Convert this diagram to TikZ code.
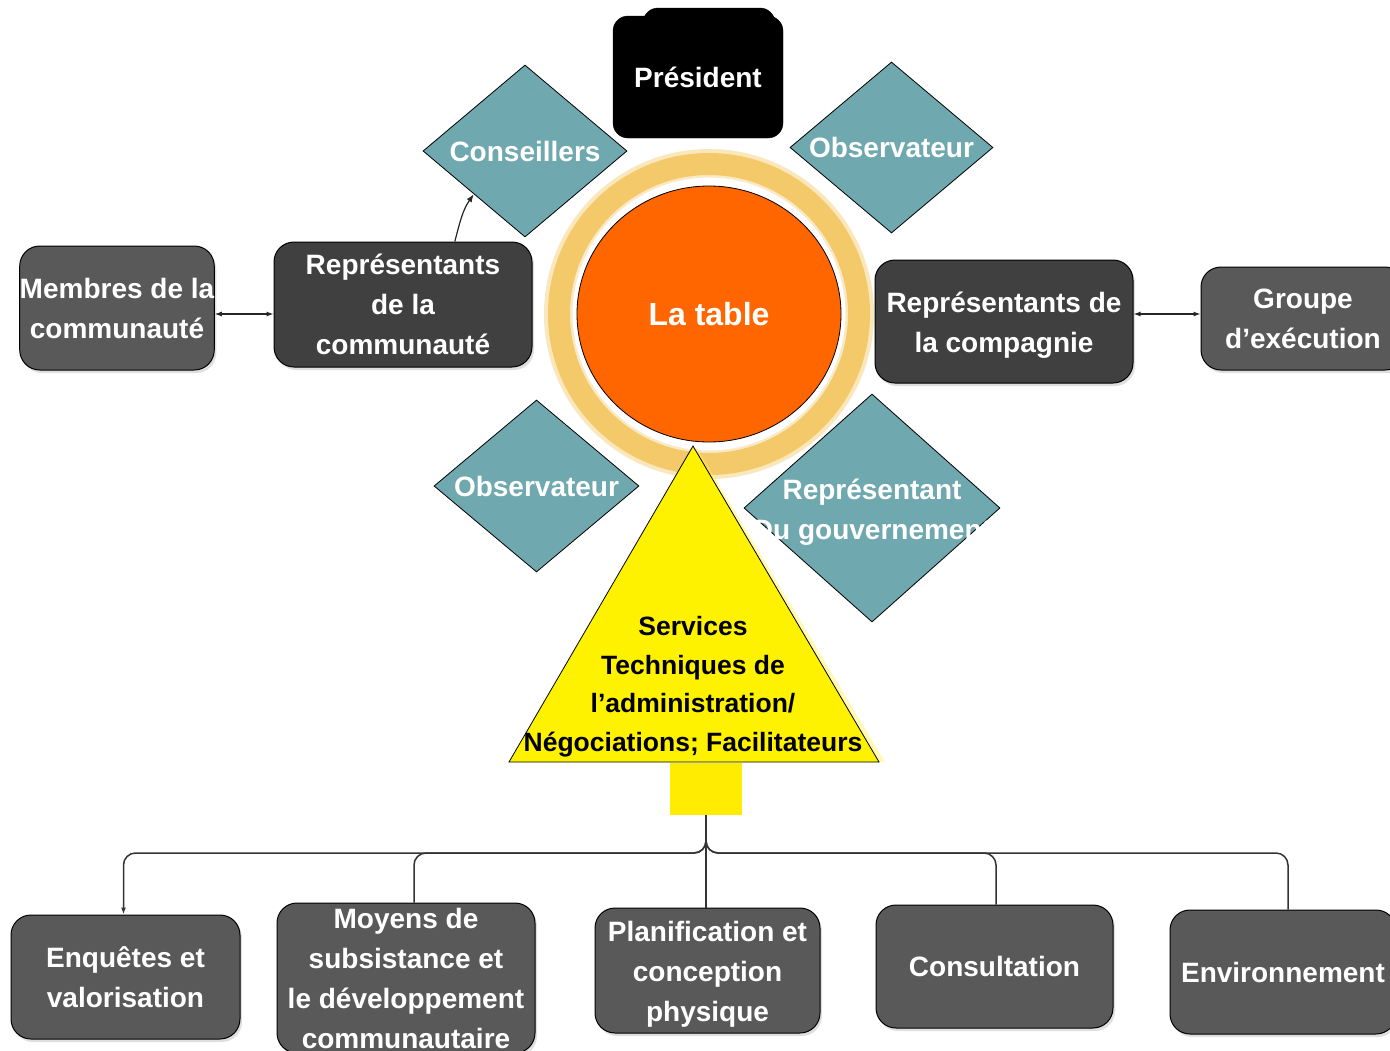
\documentclass[tikz,border=0pt]{standalone}
\usepackage{fontspec}
\setmainfont{Liberation Sans}
\usetikzlibrary{shapes.geometric,arrows.meta,calc,shadows}
\definecolor{tealc}{RGB}{111,168,175}
\definecolor{darkbox}{RGB}{89,89,89}
\definecolor{darkerbox}{RGB}{64,64,64}
\definecolor{orangec}{RGB}{255,102,0}
\definecolor{ringc}{RGB}{243,201,106}
\definecolor{stemc}{RGB}{255,236,0}
\newcommand{\lowerln}[1]{\raisebox{-4pt}[\height][\depth]{#1}}
\begin{document}
\begin{tikzpicture}[x=1pt,y=-1pt,
  box/.style={draw=black, line width=1pt, rounded corners=20pt, text=white,
    font=\bfseries\fontsize{28}{40}\selectfont, align=center, inner sep=0pt,
    drop shadow={shadow xshift=2pt, shadow yshift=-3pt, opacity=0.25}},
  dia/.style={diamond, draw=black, line width=0.8pt, fill=tealc, inner sep=0pt},
  dlab/.style={text=white, font=\bfseries\fontsize{28}{40}\selectfont, align=center},
  link/.style={draw=black!85, line width=1.2pt},
  bus/.style={draw=black!80, line width=1.5pt, rounded corners=12pt},
  tip/.style={{Latex[length=7pt,width=5pt]}-{Latex[length=7pt,width=5pt]}}
]
\useasboundingbox[fill=white] (0,0) rectangle (1390,1050);

% coordinates for arrow rows
\coordinate (yl) at (0,314);
\coordinate (yb) at (0,853);

% ring around the table
\coordinate (tc) at (709,314);
\draw[ringc!45, line width=6pt] (tc) circle [radius=162pt];
\draw[ringc!40, line width=3pt] (tc) circle [radius=138pt];
\draw[ringc, line width=22pt] (tc) circle [radius=150pt];

% table
\node[ellipse, draw=black, line width=0.8pt, fill=orangec, minimum width=264pt, minimum height=256pt,
  text=white, font=\bfseries\fontsize{32}{38}\selectfont] (tbl) at (tc) {La table};

% president
\node[draw=black, fill=black, rounded corners=15pt, minimum width=132pt, minimum height=127pt, inner sep=0pt] (presb) at (709,71.5) {};
\node[draw=black, fill=black, rounded corners=15pt, minimum width=170pt, minimum height=122pt, inner sep=0pt,
  text=white, font=\bfseries\fontsize{28}{40}\selectfont] (pres) at (698,77) {Président};

% diamonds
\node[dia, minimum width=204pt, minimum height=172pt, label={[dlab]center:Conseillers}] (dcons) at (525,151) {};
\node[dia, minimum width=203pt, minimum height=171pt, label={[dlab]center:Observateur}] (dobs1) at (891.5,147.5) {};
\node[dia, minimum width=205pt, minimum height=172pt, label={[dlab]center:Observateur}] (dobs2) at (536.5,486) {};
\node[dia, minimum width=256pt, minimum height=228pt, label={[dlab, yshift=-4pt]center:{Représentant\\Du gouvernement}}] (dgov) at (872,508) {};

% triangle
\coordinate (ta) at (693,446);
\coordinate (tl) at (509,762);
\coordinate (tr) at (879,762);
\fill[yellow!70, opacity=0.4] ($(ta)+(4,2)$) -- ($(tl)+(4,0)$) -- ($(tr)+(6,0)$) -- cycle;
\filldraw[fill=yellow, draw=black, line width=0.8pt] (ta) -- (tl) -- (tr) -- cycle;
\node[font=\bfseries\fontsize{26.5}{38.5}\selectfont, align=center, text=black] (tri) at (693,686.5)
  {Services\\Techniques de\\l’administration/\\Négociations; Facilitateurs};

% stem
\node[fill=stemc, minimum width=72pt, minimum height=52pt, inner sep=0pt] (stem) at (706,789) {};

% middle row boxes
\node[box, fill=darkbox, minimum width=190pt, minimum height=124pt] (memb) at (117,308) {Membres de la\\communauté};
\node[box, fill=darkerbox, minimum width=258pt, minimum height=125pt] (repc) at (403,304.5) {Représentants\\de la\\communauté};
\node[box, fill=darkerbox, minimum width=258pt, minimum height=123pt] (repco) at (1004,321.5) {\lowerln{Représentants de}\\\lowerln{la compagnie}};
\node[box, fill=darkbox, minimum width=204pt, minimum height=103pt] (grp) at (1303,318.5) {Groupe\\d’exécution};

% bottom boxes
\node[box, fill=darkbox, minimum width=229pt, minimum height=124pt] (enq) at (125.5,977) {Enquêtes et\\valorisation};
\node[box, fill=darkbox, minimum width=258pt, minimum height=150pt] (moy) at (406,978) {Moyens de\\subsistance et\\le développement\\communautaire};
\node[box, fill=darkbox, minimum width=225pt, minimum height=125pt] (plan) at (707.5,970.5) {\lowerln{Planification et}\\\lowerln{conception}\\\lowerln{physique}};
\node[box, fill=darkbox, minimum width=237pt, minimum height=123pt] (conslt) at (994.5,966.5) {Consultation};
\node[box, fill=darkbox, minimum width=226pt, minimum height=124pt] (env) at (1283,972) {Environnement};

% connectors, middle row
\draw[link, tip] (memb.east |- yl) -- (repc.west |- yl);
\draw[link, tip] (repco.east |- yl) -- (grp.west |- yl);
\draw[link, -{Latex[length=8pt,width=6pt]}] ($(repc.north west)!0.70!(repc.north east)$) to[out=75,in=235] (dcons.south west);

% connectors, bottom tree
\draw[bus, -{Latex[length=7pt,width=5pt]}] (stem.south) -- (stem.south |- yb) -| ($(enq.north)+(-2,0)$);
\draw[bus] (stem.south) -- (stem.south |- yb) -| ($(moy.north)+(8,0)$);
\draw[bus] (stem.south) -- (stem.south |- plan.north);
\draw[bus] (stem.south) -- (stem.south |- yb) -| ($(conslt.north)+(1.5,0)$);
\draw[bus] (stem.south) -- (stem.south |- yb) -| ($(env.north)+(5,0)$);
\end{tikzpicture}
\end{document}
